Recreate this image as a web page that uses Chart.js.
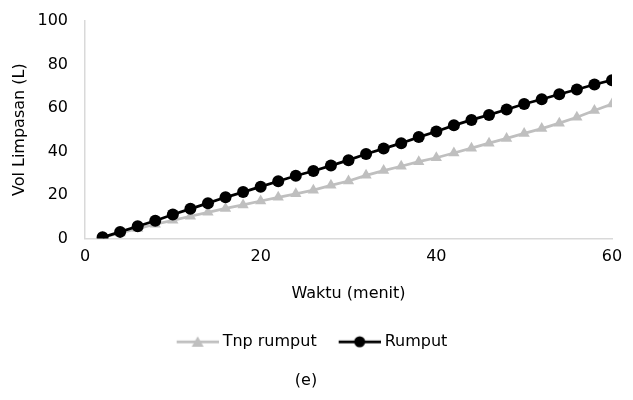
<!DOCTYPE html>
<html>
<head>
<meta charset="utf-8">
<script src="https://cdn.jsdelivr.net/npm/chart.js@4.4.0/dist/chart.umd.min.js"></script>
<style>
  html, body { margin: 0; padding: 0; background: #fff; }
  #wrap { width: 633px; height: 400px; }
</style>
</head>
<body>
<div id="wrap"><canvas id="runoff-chart"></canvas></div>
<script>
const minutes = [2, 4, 6, 8, 10, 12, 14, 16, 18, 20, 22, 24, 26, 28, 30,
                 32, 34, 36, 38, 40, 42, 44, 46, 48, 50, 52, 54, 56, 58, 60];
const tnpRumput = [0.5, 2.5, 4.5, 6.5, 8.3, 10.2, 12.0, 13.8, 15.4, 17.2, 18.9, 20.5, 22.2, 24.4, 26.4,
                   29.0, 31.2, 33.2, 35.3, 37.1, 39.3, 41.5, 43.8, 46.0, 48.3, 50.5, 53.0, 55.7, 58.8, 61.8];
const rumput = [0.5, 3.0, 5.6, 8.1, 11.0, 13.6, 16.2, 18.9, 21.3, 23.8, 26.3, 28.8, 31.0, 33.5, 36.0,
                38.8, 41.3, 43.8, 46.6, 49.2, 52.0, 54.5, 56.8, 59.3, 61.8, 64.0, 66.3, 68.5, 70.8, 72.8];
const seriesNames = ['Tnp rumput', 'Rumput'];
const xTicks = [0, 20, 40, 60];
const yTicks = [0, 20, 40, 60, 80, 100];

const grey = '#bfbfbf';
const black = '#000000';
const font = { family: 'DejaVu Sans', size: 16 };

// legend swatch: line with the marker in the middle (like Excel),
// drawn at the right end of the image so the left part acts as spacing
const SW_BOX = 50;
const SW_IMG = SW_BOX + 8;
function legendSwatch(color, marker) {
    const c = document.createElement('canvas');
    c.width = SW_IMG;
    c.height = 14;
    const g = c.getContext('2d');
    const x0 = SW_IMG - 42;
    const cx = x0 + 21;
    g.strokeStyle = color;
    g.lineWidth = 2.75;
    g.beginPath();
    g.moveTo(x0, 7);
    g.lineTo(SW_IMG, 7);
    g.stroke();
    g.fillStyle = color;
    g.beginPath();
    if (marker === 'triangle') {
        g.moveTo(cx, 1.5);
        g.lineTo(cx + 6, 12);
        g.lineTo(cx - 6, 12);
        g.closePath();
    } else {
        g.arc(cx, 7, 5.5, 0, Math.PI * 2);
    }
    g.fill();
    return c;
}
const swatches = [legendSwatch(grey, 'triangle'), legendSwatch(black, 'circle')];

const ctx = document.getElementById('runoff-chart').getContext('2d');
const chart = new Chart(ctx, {
    type: 'line',
    data: {
        datasets: [{
            label: seriesNames[0],
            data: minutes.map((m, i) => ({ x: m, y: tnpRumput[i] })),
            borderColor: grey,
            backgroundColor: grey,
            borderWidth: 2.75,
            pointStyle: 'triangle',
            pointRadius: 6.5,
            pointBorderWidth: 0,
            order: 1
        }, {
            label: seriesNames[1],
            data: minutes.map((m, i) => ({ x: m, y: rumput[i] })),
            borderColor: black,
            backgroundColor: black,
            borderWidth: 2.75,
            pointStyle: 'circle',
            pointRadius: 6,
            pointBorderWidth: 0,
            order: 0
        }]
    },
    options: {
        responsive: true,
        maintainAspectRatio: false,
        animation: false,
        layout: { padding: { left: 0, right: 21, top: 21, bottom: 4 } },
        scales: {
            x: {
                type: 'linear',
                min: 0,
                max: 60,
                afterBuildTicks: axis => { axis.ticks = xTicks.map(v => ({ value: v })); },
                grid: { display: false, drawTicks: false },
                border: { color: '#d9d9d9', width: 1.5 },
                ticks: { color: '#000', font: font, padding: 9 },
                title: {
                    display: true,
                    text: 'Waktu (menit)',
                    color: '#000',
                    font: font,
                    padding: { top: 9, bottom: 20 }
                }
            },
            y: {
                min: 0,
                max: 100,
                afterBuildTicks: axis => { axis.ticks = yTicks.map(v => ({ value: v })); },
                afterFit: axis => {
                    axis.width = 85;
                    axis.paddingTop = 0;
                    axis.paddingBottom = 0;
                },
                grid: { display: false, drawTicks: false },
                border: { color: '#d9d9d9', width: 1.5 },
                ticks: { color: '#000', font: font, padding: 17 },
                title: {
                    display: true,
                    text: 'Vol Limpasan (L)',
                    color: '#000',
                    font: font,
                    padding: { top: 10, bottom: 4 }
                }
            }
        },
        plugins: {
            legend: {
                position: 'bottom',
                labels: {
                    color: '#000',
                    font: font,
                    usePointStyle: true,
                    pointStyleWidth: SW_BOX,
                    boxHeight: 14,
                    padding: 10,
                    generateLabels: ch => ch.data.datasets.map((ds, i) => ({
                        text: ds.label,
                        pointStyle: swatches[i],
                        fillStyle: ds.borderColor,
                        strokeStyle: ds.borderColor,
                        lineWidth: 0,
                        fontColor: '#000',
                        hidden: false,
                        datasetIndex: i
                    }))
                }
            },
            title: {
                display: true,
                position: 'bottom',
                text: '(e)',
                color: '#000',
                font: { family: 'DejaVu Sans', size: 16, weight: 'normal' },
                padding: { top: 11, bottom: 6 }
            },
            tooltip: { enabled: false }
        }
    }
});
</script>
</body>
</html>
